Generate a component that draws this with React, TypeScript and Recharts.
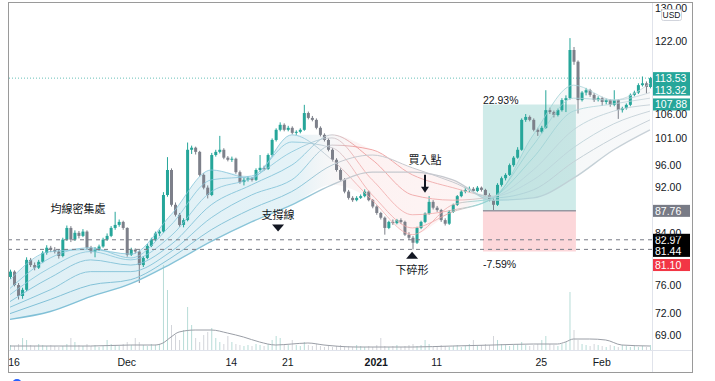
import React from 'react';
import { ComposedChart, Bar, Line, Area, XAxis, YAxis, ReferenceLine, ReferenceArea, ReferenceDot } from 'recharts';

const UP = '#26a69a';
const DOWN = '#7d808a';
const FONT = '"Liberation Sans", Arial, sans-serif';
const CJK = '"Noto Sans CJK TC", "Noto Sans CJK SC", sans-serif';

// hourly candles, open = previous close
const firstOpen = 77.2;
const closes = [
  78.0, 76.0, 74.4, 75.3, 79.8, 79.0, 78.6, 79.5, 80.9, 81.7,
  81.4, 81.1, 80.4, 83.0, 84.9, 83.0, 84.1, 83.6, 84.3, 81.7,
  81.1, 81.4, 81.9, 83.0, 83.6, 84.9, 85.4, 85.9, 84.9, 80.6,
  81.4, 81.1, 79.0, 80.1, 82.0, 83.0, 84.0, 84.3, 90.5, 95.0,
  88.8, 87.1, 85.4, 86.2, 98.8, 99.2, 98.4, 94.1, 91.8, 90.5,
  97.8, 98.4, 98.8, 97.3, 96.9, 97.1, 94.6, 92.8, 93.2, 93.5,
  93.2, 95.0, 95.4, 95.2, 97.8, 100.7, 102.7, 103.7, 102.7, 103.1,
  102.1, 102.3, 102.7, 106.1, 105.1, 104.7, 103.1, 101.7, 100.7, 98.8,
  96.9, 95.0, 93.2, 91.1, 90.0, 89.6, 90.0, 90.3, 91.1, 89.6,
  88.5, 87.4, 86.6, 84.9, 85.9, 85.7, 86.2, 85.9, 83.8, 83.3,
  82.5, 84.9, 85.9, 87.3, 89.3, 88.3, 87.9, 86.2, 85.6, 87.6,
  88.8, 90.3, 91.1, 91.4, 91.6, 91.2, 91.8, 91.4, 90.5, 89.6,
  88.8, 92.3, 93.5, 94.1, 95.9, 97.3, 98.8, 104.7, 105.3, 104.7,
  102.7, 102.3, 103.1, 106.7, 106.3, 105.7, 106.7, 108.8, 109.2, 119.9,
  117.2, 108.8, 110.4, 110.9, 109.9, 108.8, 109.2, 108.4, 108.8, 107.8,
  108.8, 106.7, 107.1, 107.8, 109.9, 110.4, 112.0, 112.4, 111.6, 113.53,
];
const highs = [
  78.3, 78.2, 76.3, 75.6, 80.2, 80.1, 79.4, 79.8, 81.2, 82.1,
  82.0, 81.8, 81.5, 83.3, 85.3, 85.2, 84.5, 84.4, 84.7, 84.5,
  82.0, 81.8, 82.2, 83.3, 84.0, 85.2, 87.6, 86.3, 86.1, 85.0,
  81.7, 81.6, 81.3, 80.4, 82.3, 83.3, 84.3, 84.6, 91.0, 97.4,
  95.3, 89.2, 87.4, 86.5, 100.2, 99.6, 99.4, 98.6, 94.4, 92.2,
  98.2, 98.8, 101.5, 99.1, 97.6, 97.5, 97.3, 94.9, 93.6, 93.8,
  93.7, 95.3, 97.8, 95.8, 98.1, 101.0, 103.0, 104.2, 104.0, 103.5,
  103.4, 102.6, 103.0, 107.8, 106.4, 105.5, 105.0, 103.4, 102.0, 101.0,
  99.1, 97.2, 95.3, 93.5, 91.4, 90.3, 90.3, 90.6, 91.5, 91.3,
  89.8, 88.7, 87.6, 86.8, 86.1, 86.3, 86.4, 86.5, 86.1, 84.2,
  83.6, 85.1, 86.1, 87.5, 90.3, 89.6, 88.6, 88.1, 86.5, 87.9,
  89.0, 90.5, 91.4, 91.8, 92.0, 91.9, 92.1, 92.0, 91.6, 90.8,
  89.9, 92.6, 93.8, 94.4, 96.2, 97.6, 99.3, 105.0, 105.9, 105.6,
  105.0, 103.1, 103.5, 110.9, 107.2, 106.6, 107.0, 109.2, 109.8, 122.7,
  120.6, 117.5, 110.7, 111.4, 111.2, 110.3, 109.6, 109.5, 109.1, 109.0,
  110.9, 109.0, 107.4, 108.1, 110.2, 110.8, 112.4, 113.9, 112.8, 113.8,
];
const lows = [
  76.9, 75.8, 73.9, 74.0, 75.1, 78.7, 78.2, 78.4, 79.3, 80.6,
  81.0, 80.8, 80.0, 80.2, 82.8, 82.6, 82.8, 83.2, 83.4, 81.4,
  80.8, 80.2, 81.2, 81.7, 82.8, 83.4, 84.6, 85.1, 84.6, 80.3,
  80.4, 80.8, 76.3, 78.7, 79.9, 81.8, 82.8, 83.6, 84.1, 90.2,
  88.5, 86.8, 85.1, 85.0, 86.0, 98.0, 97.9, 93.8, 91.5, 89.9,
  90.3, 97.5, 98.1, 97.0, 96.6, 96.5, 94.3, 92.5, 92.2, 92.9,
  92.9, 93.0, 94.7, 94.9, 95.0, 97.5, 100.4, 102.4, 102.4, 102.4,
  101.8, 101.7, 102.0, 102.5, 104.8, 104.4, 102.8, 101.4, 100.4, 98.5,
  96.6, 94.7, 92.9, 90.8, 89.7, 89.3, 89.4, 89.8, 90.1, 89.4,
  88.2, 87.1, 86.3, 83.8, 84.7, 85.4, 85.5, 85.6, 83.6, 83.0,
  81.44, 82.3, 84.7, 85.7, 87.1, 88.0, 87.6, 85.9, 85.3, 85.4,
  87.4, 88.6, 90.1, 90.8, 91.0, 90.9, 91.0, 91.1, 90.3, 89.4,
  87.76, 88.6, 92.0, 93.1, 93.9, 95.6, 97.1, 98.6, 104.3, 104.4,
  102.4, 101.5, 102.0, 102.9, 105.9, 105.2, 105.4, 106.4, 106.3, 108.9,
  116.5, 106.0, 108.5, 109.8, 109.5, 108.4, 108.5, 107.6, 107.9, 107.4,
  107.5, 104.9, 106.2, 106.8, 107.5, 109.6, 110.1, 111.7, 110.2, 111.3,
];
const volumes = [
  5, 4, 6, 12, 10, 5, 4, 6, 5, 4,
  5, 4, 3, 4, 6, 12, 8, 5, 4, 6,
  4, 5, 3, 4, 10, 6, 5, 4, 6, 8,
  5, 12, 8, 5, 4, 6, 5, 6, 85, 60,
  25, 15, 10, 20, 43, 25, 12, 8, 15, 18,
  22, 12, 8, 6, 14, 8, 6, 5, 4, 5,
  4, 6, 5, 4, 6, 10, 14, 12, 6, 5,
  10, 5, 4, 8, 5, 4, 6, 4, 3, 4,
  3, 4, 5, 3, 4, 3, 5, 4, 3, 4,
  3, 5, 12, 4, 3, 4, 5, 3, 4, 5,
  6, 4, 5, 10, 6, 4, 3, 5, 4, 3,
  4, 5, 3, 4, 6, 10, 4, 5, 6, 5,
  14, 10, 6, 5, 4, 5, 6, 8, 5, 4,
  5, 6, 10, 14, 6, 5, 4, 6, 8, 58,
  20, 10, 6, 5, 4, 6, 5, 4, 3, 5,
  4, 3, 5, 4, 3, 4, 3, 4, 3, 5,
];

// volume moving average, sampled
const vmaIdx = [0, 10, 20, 30, 36, 38, 40, 42, 46, 50, 54, 58, 62, 66, 70, 74, 78, 86, 100, 110, 120, 130, 136, 138, 140, 144, 148, 152, 159];
const vmaVals = [4, 4, 4, 5, 5, 7, 13, 18, 20, 20, 17, 13, 8, 5, 6, 7, 5, 3, 3, 4, 5, 6, 6, 8, 11, 11, 10, 5, 4];

// moving-average ribbon, sampled (fast -> slow)
const ribbonIdx = [0, 10, 20, 30, 40, 50, 60, 70, 80, 90, 100, 110, 120, 130, 140, 150, 159];
const ma1 = [76.8, 81.1, 81.4, 80.7, 87.1, 95.0, 93.5, 101.7, 96.9, 89.6, 83.8, 88.8, 90.0, 101.7, 112.0, 108.8, 112.4];
const ma2 = [75.5, 80.1, 81.7, 80.1, 85.4, 93.2, 93.9, 100.3, 99.2, 90.5, 84.9, 87.6, 90.0, 99.7, 109.2, 108.8, 110.4];
const ma3 = [74.6, 78.6, 81.1, 79.8, 83.6, 91.1, 93.5, 98.4, 101.1, 93.2, 87.1, 87.9, 90.0, 97.3, 106.5, 108.0, 109.2];
const ma4 = [73.6, 77.1, 79.8, 79.0, 82.2, 88.8, 92.3, 95.9, 101.7, 96.9, 90.5, 89.6, 90.2, 95.0, 102.7, 106.5, 107.8];
const ma5 = [72.8, 75.3, 78.0, 78.0, 81.1, 86.6, 90.5, 93.2, 99.7, 98.8, 94.1, 91.8, 90.3, 93.2, 99.2, 103.9, 106.5];
const ma6 = [71.9, 73.9, 76.0, 76.8, 80.1, 84.6, 88.1, 91.1, 95.9, 97.8, 95.4, 92.8, 90.0, 91.4, 96.5, 101.1, 104.7];
const ma7 = [71.1, 72.2, 74.3, 76.2, 79.2, 82.7, 85.9, 88.8, 92.3, 94.6, 94.6, 93.2, 89.6, 90.0, 93.5, 98.8, 102.7];
const ribbons = [ma1, ma2, ma3, ma4, ma5, ma6, ma7];
const ribbonStroke = ['url(#gFast)', 'url(#gFast)', 'url(#gFast)', 'url(#gMid)', 'url(#gMid)', 'url(#gSlow)', 'url(#gSlow)'];
const ribbonWidth = [0.8, 0.8, 0.8, 0.9, 0.9, 1, 1.4];

const xTicks = [1, 29, 55, 69, 91, 106, 132, 147];
const xLabels = ['16', 'Dec', '14', '21', '2021', '11', '25', 'Feb'];
const yTicks = [69, 72, 76, 84, 92, 96, 101, 106, 122, 130];

// long position tool
const entry = 87.76;
const target = 107.88;
const stop = 81.10;
const posStart = 117.5;
const posEnd = 140.6;

const priceTags = [
  { v: 113.53, bg: '#26a69a', dy: 0 },
  { v: 113.32, bg: '#26a69a', dy: 10.5 },
  { v: 107.88, bg: '#26a69a', dy: 0 },
  { v: 87.76, bg: '#787b86', dy: 0 },
  { v: 82.97, bg: '#000000', dy: 0 },
  { v: 81.44, bg: '#000000', dy: 1.5 },
  { v: 81.10, bg: '#f23645', dy: 13.5 },
];

const rows = closes.map((c, i) => {
  const row: any = {
    i,
    o: i === 0 ? firstOpen : closes[i - 1],
    h: highs[i],
    l: lows[i],
    c,
    vol: volumes[i],
  };
  const k = ribbonIdx.indexOf(i);
  if (k >= 0) {
    const vals = ribbons.map(r => r[k]);
    vals.forEach((v, n) => { row['m' + n] = v; });
    row.band = [Math.min(...vals), Math.max(...vals)];
  }
  const q = vmaIdx.indexOf(i);
  if (q >= 0) row.vma = vmaVals[q];
  return row;
});

const Candle = (props: any) => {
  const { x, y, width, height, payload } = props;
  if (!payload || y == null || isNaN(y) || height == null) return null;
  const top = height >= 0 ? y : y + height;
  const hgt = Math.abs(height);
  const { o, h, l, c } = payload;
  const lh = Math.log(h);
  const ll = Math.log(l);
  const py = (p: number) => (lh === ll ? top : top + (hgt * (lh - Math.log(p))) / (lh - ll));
  const color = c >= o ? UP : DOWN;
  const b1 = py(Math.max(o, c));
  const b2 = py(Math.min(o, c));
  const cx = x + width / 2;
  return (
    <g>
      <line x1={cx} x2={cx} y1={top} y2={top + hgt} stroke={color} strokeWidth={1} />
      <rect x={x} y={b1} width={width} height={Math.max(1, b2 - b1)} fill={color} />
    </g>
  );
};

const VolBar = (props: any) => {
  const { x, y, width, height, payload } = props;
  if (!payload || !height) return null;
  const color = payload.c >= payload.o ? '#b7dcd8' : '#d3d5da';
  return <rect x={x} y={y} width={width} height={height} fill={color} />;
};

const XTick = (props: any) => {
  const { x, y, payload } = props;
  const k = xTicks.indexOf(payload.value);
  const label = k >= 0 ? xLabels[k] : '';
  return (
    <text x={x} y={y + 16} textAnchor="middle" fontSize={10.5} fontFamily={FONT} fill="#131722" fontWeight={label === '2021' ? 700 : 400}>
      {label}
    </text>
  );
};

const YTick = (props: any) => {
  const { x, y, payload } = props;
  return (
    <text x={x + 3} y={y + 4} fontSize={10.5} fontFamily={FONT} fill="#131722">
      {Number(payload.value).toFixed(2)}
    </text>
  );
};

const tagLabel = (bg: string, value: number, dy: number) => (props: any) => {
  const vb = props.viewBox || {};
  const x = (vb.x || 0) + (vb.width || 0);
  const y = (vb.y || 0) + dy;
  return (
    <g>
      <rect x={x} y={y - 6} width={38} height={12} fill={bg} />
      <text x={x + 3} y={y + 4} fontSize={10.5} fontFamily={FONT} fill="#ffffff">{value.toFixed(2)}</text>
    </g>
  );
};

const textShape = (txt: string, size: number, anchor: string, family: string) => (p: any) => (
  <text x={p.cx} y={p.cy} dy={4} textAnchor={anchor} fontSize={size} fontFamily={family} fill="#131722">{txt}</text>
);

const triDown = (p: any) => <path d={`M${p.cx - 6},${p.cy - 4} L${p.cx + 6},${p.cy - 4} L${p.cx},${p.cy + 3} Z`} fill="#131722" />;
const triUp = (p: any) => <path d={`M${p.cx - 6},${p.cy + 4} L${p.cx + 6},${p.cy + 4} L${p.cx},${p.cy - 3} Z`} fill="#131722" />;
const arrowDown = (p: any) => (
  <g>
    <line x1={p.cx} x2={p.cx} y1={p.cy - 9} y2={p.cy + 5} stroke="#131722" strokeWidth={2} />
    <path d={`M${p.cx - 4},${p.cy + 3} L${p.cx + 4},${p.cy + 3} L${p.cx},${p.cy + 9} Z`} fill="#131722" />
  </g>
);

export default function App() {
  return (
    <div style={{ position: 'absolute', left: 0, top: 0, width: 715, height: 381, background: '#fff', overflow: 'hidden' }}>
      <ComposedChart width={715} height={381} data={rows} margin={{ top: 2, right: 23, bottom: 9, left: 8 }}>
        <defs>
          <linearGradient id="gFast" gradientUnits="userSpaceOnUse" x1="8" y1="0" x2="652" y2="0">
            <stop offset="0" stopColor="#86c5da" />
            <stop offset="0.45" stopColor="#86c5da" />
            <stop offset="0.5" stopColor="#c4c7ce" />
            <stop offset="0.54" stopColor="#f0a8a8" />
            <stop offset="0.68" stopColor="#f0a8a8" />
            <stop offset="0.73" stopColor="#8ccfcf" />
            <stop offset="0.88" stopColor="#a6d3d8" />
            <stop offset="1" stopColor="#c9d3da" />
          </linearGradient>
          <linearGradient id="gMid" gradientUnits="userSpaceOnUse" x1="8" y1="0" x2="652" y2="0">
            <stop offset="0" stopColor="#80c0d6" />
            <stop offset="0.46" stopColor="#86c5da" />
            <stop offset="0.5" stopColor="#c6c9cf" />
            <stop offset="0.54" stopColor="#ee9a9a" />
            <stop offset="0.7" stopColor="#f0b0b0" />
            <stop offset="0.76" stopColor="#b5d7dc" />
            <stop offset="1" stopColor="#c6d0d7" />
          </linearGradient>
          <linearGradient id="gSlow" gradientUnits="userSpaceOnUse" x1="8" y1="0" x2="652" y2="0">
            <stop offset="0" stopColor="#7fbfd6" />
            <stop offset="0.46" stopColor="#8cc6d9" />
            <stop offset="0.52" stopColor="#c6c9cf" />
            <stop offset="0.7" stopColor="#c6c9cf" />
            <stop offset="0.76" stopColor="#a9d5da" />
            <stop offset="0.88" stopColor="#c3d0d6" />
            <stop offset="1" stopColor="#c9d1d8" />
          </linearGradient>
          <linearGradient id="gBand" gradientUnits="userSpaceOnUse" x1="8" y1="0" x2="652" y2="0">
            <stop offset="0" stopColor="#a6d4e4" stopOpacity={0.6} />
            <stop offset="0.45" stopColor="#a6d4e4" stopOpacity={0.5} />
            <stop offset="0.5" stopColor="#d5d7dc" stopOpacity={0.35} />
            <stop offset="0.55" stopColor="#f7c9c9" stopOpacity={0.4} />
            <stop offset="0.7" stopColor="#f7c9c9" stopOpacity={0.35} />
            <stop offset="0.74" stopColor="#b9e0e0" stopOpacity={0.45} />
            <stop offset="0.9" stopColor="#dbe2e6" stopOpacity={0.4} />
            <stop offset="1" stopColor="#dbe2e6" stopOpacity={0.35} />
          </linearGradient>
        </defs>

        <XAxis dataKey="i" type="number" domain={[-0.5, 159.5]} ticks={xTicks} interval={0} height={22}
          axisLine={false} tickLine={false} tickSize={0} tickMargin={0} tick={<XTick />} allowDataOverflow />
        <XAxis xAxisId="v" dataKey="i" type="number" domain={[-0.5, 159.5]} hide />
        <YAxis yAxisId="p" orientation="right" scale="log" domain={[67, 131.6]} ticks={yTicks} interval={0}
          width={40} axisLine={false} tickLine={false} tickSize={0} tickMargin={0} tick={<YTick />} allowDataOverflow />
        <YAxis yAxisId="v" domain={[0, 348]} hide />

        <Area yAxisId="p" dataKey="band" type="monotone" connectNulls stroke="none" fill="url(#gBand)" isAnimationActive={false} />
        {ribbons.map((_, n) => (
          <Line key={n} yAxisId="p" dataKey={'m' + n} type="monotone" connectNulls dot={false} activeDot={false}
            stroke={ribbonStroke[n]} strokeWidth={ribbonWidth[n]} isAnimationActive={false} />
        ))}

        <Bar xAxisId="v" yAxisId="v" dataKey="vol" barSize={1} shape={<VolBar />} isAnimationActive={false} />
        <Line xAxisId="v" yAxisId="v" dataKey="vma" type="monotone" connectNulls dot={false} activeDot={false}
          stroke="#9a9ea6" strokeWidth={1} isAnimationActive={false} />

        <ReferenceArea yAxisId="p" x1={posStart} x2={posEnd} y1={entry} y2={target} fill="#26a69a" fillOpacity={0.22} stroke="none" />
        <ReferenceArea yAxisId="p" x1={posStart} x2={posEnd} y1={stop} y2={entry} fill="#f23645" fillOpacity={0.2} stroke="none" />
        <ReferenceLine yAxisId="p" segment={[{ x: posStart, y: entry }, { x: posEnd, y: entry }]} stroke="#9598a1" strokeWidth={1.5} />

        <ReferenceLine yAxisId="p" y={113.53} stroke="#26a69a" strokeOpacity={0.7} strokeDasharray="1 2" />
        <ReferenceLine yAxisId="p" y={82.97} stroke="#787b86" strokeDasharray="4 4" />
        <ReferenceLine yAxisId="p" y={81.44} stroke="#787b86" strokeDasharray="4 4" />

        <Bar yAxisId="p" dataKey={(d: any) => [d.l, d.h]} barSize={3} shape={<Candle />} isAnimationActive={false} />

        <ReferenceDot yAxisId="p" x={16.9} y={88.0} r={0} shape={textShape('均線密集處', 11, 'middle', CJK)} />
        <ReferenceDot yAxisId="p" x={66.6} y={87.1} r={0} shape={textShape('支撐線', 11, 'middle', CJK)} />
        <ReferenceDot yAxisId="p" x={66.6} y={84.8} r={0} shape={triDown} />
        <ReferenceDot yAxisId="p" x={103.1} y={96.9} r={0} shape={textShape('買入點', 11, 'middle', CJK)} />
        <ReferenceDot yAxisId="p" x={103.1} y={92.5} r={0} shape={arrowDown} />
        <ReferenceDot yAxisId="p" x={99.9} y={80.6} r={0} shape={triUp} />
        <ReferenceDot yAxisId="p" x={99.9} y={78.3} r={0} shape={textShape('下碎形', 11, 'middle', CJK)} />
        <ReferenceDot yAxisId="p" x={posStart} y={108.9} r={0} shape={textShape('22.93%', 10.5, 'start', FONT)} />
        <ReferenceDot yAxisId="p" x={posStart} y={79.1} r={0} shape={textShape('-7.59%', 10.5, 'start', FONT)} />

        {priceTags.map(t => (
          <ReferenceLine key={t.v} yAxisId="p" y={t.v} stroke="none" label={tagLabel(t.bg, t.v, t.dy)} />
        ))}
      </ComposedChart>

      <svg width={715} height={381} style={{ position: 'absolute', left: 0, top: 0, pointerEvents: 'none' }}>
        <line x1={652.5} x2={652.5} y1={2} y2={372} stroke="#e0e3eb" />
        <line x1={8} x2={692} y1={350.5} y2={350.5} stroke="#e0e3eb" />
        <rect x={661.5} y={9.5} width={20} height={11} rx={2} fill="#ffffff" stroke="#d1d4dc" />
        <text x={671.5} y={18} textAnchor="middle" fontSize={8.5} fontFamily={FONT} fill="#131722">USD</text>
        <rect x={8.5} y={2.5} width={684} height={370} fill="none" stroke="#9a9a9a" />
        <circle cx={17} cy={384} r={5} fill="#2962ff" />
      </svg>
    </div>
  );
}
